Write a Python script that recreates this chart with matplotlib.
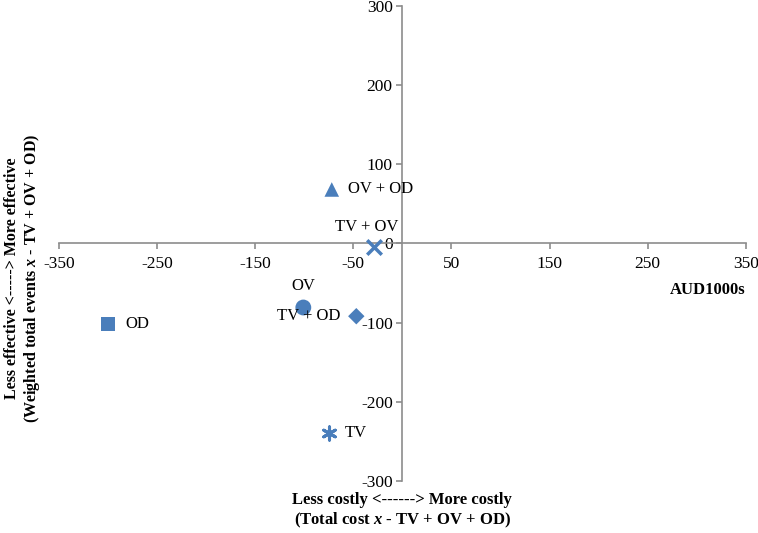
import matplotlib
matplotlib.use("Agg")
import matplotlib.pyplot as plt

plt.rcParams['font.family'] = ['Liberation Serif', 'DejaVu Serif']
plt.rcParams['axes.unicode_minus'] = False
plt.rcParams['mathtext.fontset'] = 'custom'
plt.rcParams['mathtext.it'] = 'Liberation Serif:italic:bold'
plt.rcParams['mathtext.rm'] = 'Liberation Serif:bold'

labels = ['OD', 'OV', 'TV + OD', 'TV', 'OV + OD', 'TV + OV']
costs = [-300, -101, -47, -75, -72, -29]
effects = [-102, -81, -92, -240, 68, -4]
markers = ['s', 'o', 'D', '*', '^', 'x']
sizes = [105, 130, 70, 90, 110, 110]
# label offsets in pixels (dx, dy) and alignment
offsets = [(17, 0, 'left'), (0, 22, 'center'), (-16, 0, 'right'),
           (16, 0, 'left'), (16, 0, 'left'), (-7, 20, 'center')]
xticks = [-350, -250, -150, -50, 50, 150, 250, 350]
yticks = [-300, -200, -100, 0, 100, 200, 300]

color = '#4A7EBB'
axis_gray = '#8C8C8C'

fig = plt.figure(figsize=(7.58, 5.33), dpi=100)
ax = fig.add_axes([0.0778, 0.0976, 0.9062, 0.8917])
ax.set_xlim(-350, 350)
ax.set_ylim(-300, 300)

for c, e, m, s, lab, (dx, dy, ha) in zip(costs, effects, markers, sizes, labels, offsets):
    if m == '*':
        ax.scatter([c], [e], marker=(6, 2, 0), s=s, color=color, linewidths=2.2, zorder=3)
    elif m == 'x':
        ax.scatter([c], [e], marker='x', s=s, color=color, linewidths=2.5, zorder=3)
    else:
        ax.scatter([c], [e], marker=m, s=s, color=color, edgecolors='none', zorder=3)
    ax.annotate(lab, (c, e), xytext=(dx, dy), textcoords='offset pixels',
                ha=ha, va='center', fontsize=12, color='black')

for side in ['top', 'right']:
    ax.spines[side].set_visible(False)
ax.spines['left'].set_position(('data', 0))
ax.spines['bottom'].set_position(('data', 0))
for side in ['left', 'bottom']:
    ax.spines[side].set_color(axis_gray)
    ax.spines[side].set_linewidth(1.2)

ax.set_xticks(xticks)
ax.set_yticks(yticks)
ax.tick_params(axis='both', colors=axis_gray, labelcolor='black', labelsize=12.5,
               length=4, width=1.2, direction='out')
ax.tick_params(axis='x', pad=5)
ax.tick_params(axis='y', pad=3)

fig.text(708 / 758, 1 - 290 / 533, 'AUD1000s', ha='center', va='center',
         fontsize=12, fontweight='bold')
fig.text(402 / 758, 1 - 511 / 533,
         'Less costly <------> More costly\n(Total cost $x$ - TV + OV + OD)',
         ha='center', va='center', fontsize=12, fontweight='bold', linespacing=1.15)
fig.text(23 / 758, 1 - 278 / 533,
         'Less effective <-----> More effective\n(Weighted total events $x$ - TV + OV + OD)',
         ha='center', va='center', rotation=90, fontsize=11.5, fontweight='bold',
         linespacing=1.1)

fig.savefig('out.png', dpi=100)
